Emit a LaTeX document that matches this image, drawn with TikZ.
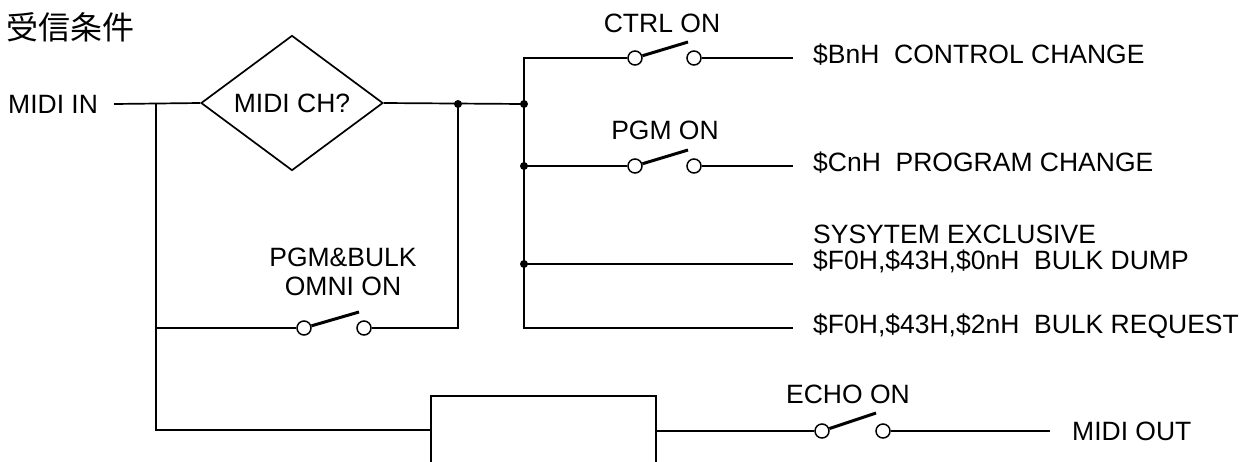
\documentclass[tikz,border=0pt]{standalone}
\usepackage{fontspec}
\setmainfont{Liberation Sans}
\newfontfamily\cjk{Noto Sans CJK JP}
\usetikzlibrary{shapes.geometric}
\tikzset{
 wire/.style={line width=1.7pt},
 lbl/.style={font=\fontsize{26.5}{30}\selectfont, inner sep=0pt},
 term/.style={circle, draw, fill=white, line width=1.5pt, minimum size=14pt, inner sep=0pt},
 dot/.style={circle, fill, minimum size=8pt, inner sep=0pt},
 blade/.style={line width=3pt},
}
\begin{document}
\begin{tikzpicture}[x=1pt,y=-1pt]
\useasboundingbox (0,0) rectangle (1252,461);
% texts
\node[lbl, font=\cjk\fontsize{32}{36}\selectfont, anchor=west] (title) at (6,27) {受信条件};
\node[lbl, anchor=base west] (in) at (8,113) {MIDI IN};
\node[diamond, draw, wire, minimum width=182pt, minimum height=106pt, lbl] (ch) at (292,103) {MIDI CH?};
% junctions
\coordinate (j1) at (156,104);
\node[dot] (d1) at (458,104) {};
\node[dot] (d2) at (524,104) {};
\coordinate (c1) at (524,58);
\node[dot] (d3) at (524,166) {};
\node[dot] (d4) at (524,264) {};
\coordinate (c4) at (524,328);
% CTRL switch
\node[term] (s1a) at (635,58) {};
\node[term] (s1b) at (694,58) {};
\coordinate (s1t) at (688,42);
\node[lbl, anchor=base] (s1l) at (662,32) {CTRL ON};
\coordinate (e1) at (793,58);
\node[lbl, anchor=base west] (t1) at (813,63) {\$BnH\ \ CONTROL CHANGE};
% PGM switch
\node[term] (s2a) at (635,166) {};
\node[term] (s2b) at (694,166) {};
\coordinate (s2t) at (688,150);
\node[lbl, anchor=base] (s2l) at (665,139) {PGM ON};
\coordinate (e2) at (793,166);
\node[lbl, anchor=base west] (t2) at (813,171) {\$CnH\ \ PROGRAM CHANGE};
% sysex
\node[lbl, anchor=base west] (t3a) at (813,243) {SYSYTEM EXCLUSIVE};
\coordinate (e3) at (793,264);
\node[lbl, anchor=base west] (t3) at (813,269) {\$F0H,\$43H,\$0nH\ \ BULK DUMP};
\coordinate (e4) at (793,328);
\node[lbl, anchor=base west] (t4) at (813,333) {\$F0H,\$43H,\$2nH\ \ BULK REQUEST};
% omni switch
\coordinate (j2) at (156,328);
\node[term] (s3a) at (304,328) {};
\node[term] (s3b) at (364,328) {};
\coordinate (s3t) at (359,312);
\coordinate (c5) at (458,328);
\node[lbl, anchor=base] (s3l) at (343,266) {PGM\&BULK};
\node[lbl, anchor=base] (s3m) at (343,295) {OMNI ON};
% bottom
\coordinate (c6) at (156,430);
\coordinate (bl) at (431,430);
\coordinate (br) at (656,431);
\coordinate (b1) at (431,470);
\coordinate (b2) at (431,396);
\coordinate (b3) at (656,396);
\coordinate (b4) at (656,470);
\node[term] (s4a) at (822,431) {};
\node[term] (s4b) at (883,431) {};
\coordinate (s4t) at (876,413);
\node[lbl, anchor=base] (s4l) at (848,403) {ECHO ON};
\coordinate (e5) at (1050,431);
\node[lbl, anchor=base west] (out) at (1072,440) {MIDI OUT};
% wires
\draw[wire] ([xshift=16pt]in.east |- j1) -- (ch.west);
\draw[wire] (ch.east) -- (d2.center);
\draw[wire] (j1) -- (j2) -- (c6) -- (bl);
\draw[wire] (j2) -- (s3a);
\draw[wire] (s3b) -- (c5) -- (d1.center);
\draw[blade] (s3a) -- (s3t);
\draw[wire] (s1a) -- (c1) -- (c4) -- (e4);
\draw[wire] (s1b) -- (e1);
\draw[blade] (s1a) -- (s1t);
\draw[wire] (d3.center) -- (s2a);
\draw[wire] (s2b) -- (e2);
\draw[blade] (s2a) -- (s2t);
\draw[wire] (d4.center) -- (e3);
\draw[wire] (b1) -- (b2) -- (b3) -- (b4);
\draw[wire] (br) -- (s4a);
\draw[wire] (s4b) -- (e5);
\draw[blade] (s4a) -- (s4t);
\end{tikzpicture}
\end{document}
